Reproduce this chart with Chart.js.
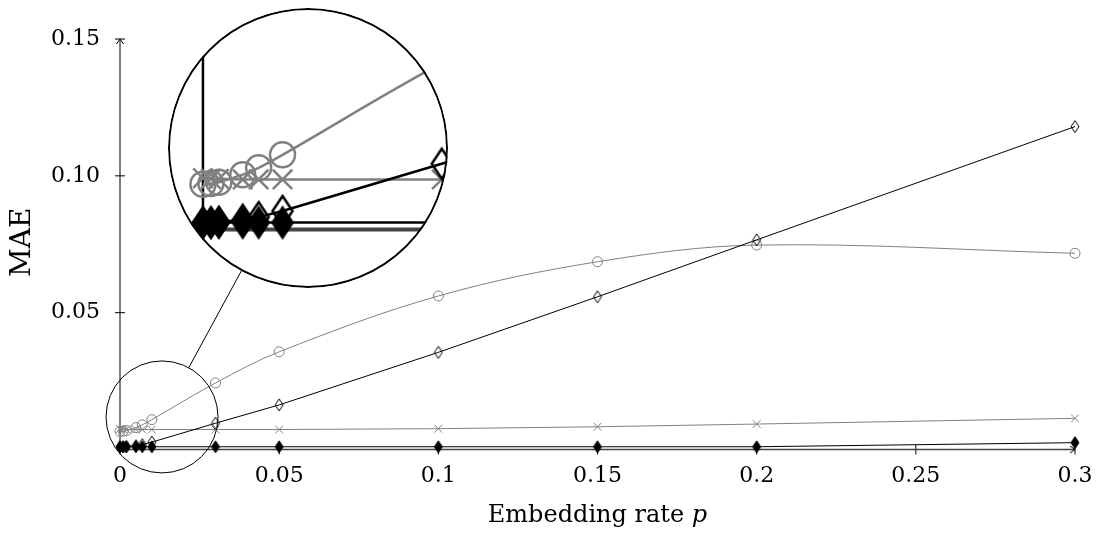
<!DOCTYPE html>
<html>
<head>
<meta charset="utf-8">
<script src="https://cdn.jsdelivr.net/npm/chart.js@4.4.1/dist/chart.umd.min.js"></script>
<style>
  html, body { margin: 0; padding: 0; background: #fff; }
  #wrap { position: relative; width: 1100px; height: 533px; overflow: hidden; }
  #main { position: absolute; left: 0; top: 0; }
  #lens { position: absolute; border-radius: 50%; overflow: hidden; background: #fff; }
  #lens canvas { display: block; }
</style>
</head>
<body>
<div id="wrap">
  <canvas id="main" width="1100" height="533"></canvas>
  <div id="lens"><canvas id="zoom"></canvas></div>
</div>
<script>
// ----- data -----
const rates = [0, 0.001, 0.002, 0.005, 0.007, 0.01, 0.03, 0.05, 0.1, 0.15, 0.2, 0.3];
const maeCircle  = [0.0066, 0.0067, 0.0069, 0.0080, 0.0090, 0.0109, 0.0243, 0.0357, 0.0561, 0.0686, 0.0747, 0.0717];
const maeCross   = [0.0075, 0.0074, 0.0074, 0.0073, 0.0073, 0.0073, 0.0073, 0.0073, 0.0076, 0.0083, 0.0093, 0.0114];
const maeDiamond = [0.0010, 0.0010, 0.0011, 0.0014, 0.0018, 0.0027, 0.0096, 0.0163, 0.0355, 0.0558, 0.0766, 0.1180];
const maeFilled  = [0.0010, 0.0010, 0.0010, 0.0010, 0.0010, 0.0010, 0.0010, 0.0010, 0.0010, 0.0010, 0.0010, 0.0025];

const xTicks = [0, 0.05, 0.1, 0.15, 0.2, 0.25, 0.3];
const yTicks = [0.05, 0.10, 0.15];

const xTitle = "Embedding rate ";
const xTitleVar = "p";
const yTitle = "MAE";

// spy lens (data units for the two centres)
const spyFrom = { x: 0.0132, y: 0.0119 };
const spyTo = { x: 0.0591, y: 0.1102 };
const lensZoom = 2.5;
const lensRadius = 140;

const GRAY = "#808080";
const FONT = "'DejaVu Serif', serif";

function pts(arr) {
  return rates.map((x, i) => ({ x: x, y: arr[i] }));
}

// pgfplots style diamond: taller than wide
function diamondMark(w, h, lw, filled) {
  const c = document.createElement("canvas");
  const pad = Math.ceil(lw) + 1;
  c.width = Math.ceil(w + 2 * pad);
  c.height = Math.ceil(h + 2 * pad);
  const g = c.getContext("2d");
  const cx = c.width / 2, cy = c.height / 2;
  g.beginPath();
  g.moveTo(cx, cy - h / 2);
  g.lineTo(cx + w / 2, cy);
  g.lineTo(cx, cy + h / 2);
  g.lineTo(cx - w / 2, cy);
  g.closePath();
  if (filled) { g.fillStyle = "#000"; g.fill(); }
  g.lineWidth = lw;
  g.strokeStyle = "#000";
  g.stroke();
  return c;
}

function makeSets(k) {
  return [
    {
      data: pts(maeFilled), borderColor: "#000", borderWidth: 1 * k, tension: 0,
      pointStyle: diamondMark(8 * k, 12 * k, 1 * k, true), pointRadius: 6 * k, clip: false
    },
    {
      data: pts(maeDiamond), borderColor: "#000", borderWidth: 1 * k, tension: 0,
      pointStyle: diamondMark(8 * k, 12 * k, 1 * k, false), pointRadius: 6 * k, clip: false
    },
    {
      data: pts(maeCross), borderColor: GRAY, borderWidth: 1 * k, tension: 0,
      pointStyle: "crossRot", pointRadius: 5.5 * k,
      pointBorderColor: GRAY, pointBorderWidth: 1 * k, clip: false
    },
    {
      data: pts(maeCircle), borderColor: GRAY, borderWidth: 1 * k, tension: 0.35,
      pointStyle: "circle", pointRadius: 5 * k, pointBackgroundColor: "rgba(0,0,0,0)",
      pointBorderColor: GRAY, pointBorderWidth: 1 * k, clip: false
    }
  ];
}

function seg(ctx, x1, y1, x2, y2) {
  ctx.beginPath();
  ctx.moveTo(x1, y1);
  ctx.lineTo(x2, y2);
  ctx.stroke();
}

// axis lines, crossing tick marks, arrow tips
function axesPlugin(k, arrows) {
  return {
    id: "axes",
    beforeDatasetsDraw(chart) {
      const { ctx, scales: { x, y }, chartArea } = chart;
      const x0 = x.getPixelForValue(0), y0 = y.getPixelForValue(0);
      const xEnd = x.getPixelForValue(0.3), yTop = y.getPixelForValue(0.15);
      ctx.save();
      ctx.lineCap = "butt";
      ctx.strokeStyle = "#000";
      ctx.lineWidth = 1 * k;
      seg(ctx, x0, y0, x0, Math.max(yTop, chartArea.top - 20));
      yTicks.forEach(v => {
        const py = y.getPixelForValue(v);
        seg(ctx, x0 - 5 * k, py, x0 + 5 * k, py);
      });
      xTicks.forEach(v => {
        const px = x.getPixelForValue(v);
        seg(ctx, px, y0 - 5 * k, px, y0 + 5 * k);
      });
      ctx.strokeStyle = "#444";
      ctx.lineWidth = 1.6 * k;
      seg(ctx, x0, y0, Math.min(xEnd, chartArea.right + 20), y0);
      if (arrows) {
        ctx.strokeStyle = "#000";
        ctx.lineWidth = 1;
        ctx.beginPath();
        ctx.moveTo(x0 - 3.5, yTop + 5);
        ctx.lineTo(x0, yTop);
        ctx.lineTo(x0 + 3.5, yTop + 5);
        ctx.stroke();
        ctx.beginPath();
        ctx.moveTo(xEnd - 5, y0 - 3.5);
        ctx.lineTo(xEnd, y0);
        ctx.lineTo(xEnd - 5, y0 + 3.5);
        ctx.stroke();
      }
      ctx.restore();
    }
  };
}

const titlesPlugin = {
  id: "titles",
  afterDraw(chart) {
    const { ctx, chartArea } = chart;
    ctx.save();
    ctx.fillStyle = "#000";
    // y title
    ctx.font = "28px " + FONT;
    ctx.textAlign = "center";
    ctx.textBaseline = "middle";
    ctx.translate(23, (chartArea.top + chartArea.bottom) / 2 - 2);
    ctx.rotate(-Math.PI / 2);
    ctx.fillText(yTitle, 0, 0);
    ctx.setTransform(1, 0, 0, 1, 0, 0);
    // x title, with italic variable
    ctx.textAlign = "left";
    ctx.textBaseline = "alphabetic";
    ctx.font = "24px " + FONT;
    const w1 = ctx.measureText(xTitle).width;
    ctx.font = "italic 24px " + FONT;
    const w2 = ctx.measureText(xTitleVar).width;
    const sx = (chartArea.left + chartArea.right) / 2 - (w1 + w2) / 2;
    ctx.font = "24px " + FONT;
    ctx.fillText(xTitle, sx, 522);
    ctx.font = "italic 24px " + FONT;
    ctx.fillText(xTitleVar, sx + w1, 522);
    ctx.restore();
  }
};

const spyPlugin = {
  id: "spy",
  afterDatasetsDraw(chart) {
    const { ctx, scales: { x, y } } = chart;
    const r = lensRadius / lensZoom;
    const ax = x.getPixelForValue(spyFrom.x), ay = y.getPixelForValue(spyFrom.y);
    const bx = x.getPixelForValue(spyTo.x), by = y.getPixelForValue(spyTo.y);
    const d = Math.hypot(bx - ax, by - ay);
    const ux = (bx - ax) / d, uy = (by - ay) / d;
    ctx.save();
    ctx.strokeStyle = "#000";
    ctx.lineWidth = 1;
    ctx.beginPath();
    ctx.arc(ax, ay, r, 0, Math.PI * 2);
    ctx.stroke();
    seg(ctx, ax + ux * r, ay + uy * r, bx - ux * lensRadius, by - uy * lensRadius);
    ctx.restore();
  }
};

const mainChart = new Chart(document.getElementById("main"), {
  type: "line",
  data: { datasets: makeSets(1) },
  options: {
    responsive: false,
    animation: false,
    devicePixelRatio: 1,
    layout: { autoPadding: false, padding: { left: 0, right: 25, top: 39, bottom: 0 } },
    plugins: { legend: { display: false }, tooltip: { enabled: false } },
    scales: {
      x: {
        type: "linear", min: 0, max: 0.3,
        afterFit: s => { s.height = 83.5; s.paddingLeft = 0; s.paddingRight = 0; },
        afterBuildTicks: s => { s.ticks = xTicks.map(v => ({ value: v })); },
        ticks: {
          padding: 14, autoSkip: false, maxRotation: 0, color: "#000",
          font: { family: FONT, size: 22 },
          callback: v => String(parseFloat(Number(v).toFixed(3)))
        },
        grid: { display: false, drawTicks: false },
        border: { display: false }
      },
      y: {
        type: "linear", min: 0, max: 0.15,
        afterFit: s => { s.width = 120; s.paddingTop = 0; s.paddingBottom = 0; },
        afterBuildTicks: s => { s.ticks = yTicks.map(v => ({ value: v })); },
        ticks: {
          padding: 20, color: "#000",
          font: { family: FONT, size: 22 },
          callback: v => Number(v).toFixed(2)
        },
        grid: { display: false, drawTicks: false },
        border: { display: false }
      }
    }
  },
  plugins: [axesPlugin(1, true), spyPlugin, titlesPlugin]
});

// ----- magnified lens -----
const xs = mainChart.scales.x, ys = mainChart.scales.y;
const pxPerX = (xs.getPixelForValue(0.3) - xs.getPixelForValue(0)) / 0.3;
const pxPerY = (ys.getPixelForValue(0) - ys.getPixelForValue(0.15)) / 0.15;
const rSmall = lensRadius / lensZoom;

const lens = document.getElementById("lens");
const bigX = xs.getPixelForValue(spyTo.x), bigY = ys.getPixelForValue(spyTo.y);
lens.style.left = (bigX - lensRadius) + "px";
lens.style.top = (bigY - lensRadius) + "px";
lens.style.width = (2 * lensRadius) + "px";
lens.style.height = (2 * lensRadius) + "px";

const zoomCanvas = document.getElementById("zoom");
zoomCanvas.width = 2 * lensRadius;
zoomCanvas.height = 2 * lensRadius;

const lensOutline = {
  id: "lensOutline",
  afterDraw(chart) {
    const ctx = chart.ctx;
    ctx.save();
    ctx.strokeStyle = "#000";
    ctx.lineWidth = 2;
    ctx.beginPath();
    ctx.arc(lensRadius, lensRadius, lensRadius - 1, 0, Math.PI * 2);
    ctx.stroke();
    ctx.restore();
  }
};

new Chart(zoomCanvas, {
  type: "line",
  data: { datasets: makeSets(lensZoom) },
  options: {
    responsive: false,
    animation: false,
    devicePixelRatio: 1,
    layout: { autoPadding: false, padding: 0 },
    plugins: { legend: { display: false }, tooltip: { enabled: false } },
    scales: {
      x: { type: "linear", display: false, min: spyFrom.x - rSmall / pxPerX, max: spyFrom.x + rSmall / pxPerX },
      y: { type: "linear", display: false, min: spyFrom.y - rSmall / pxPerY, max: spyFrom.y + rSmall / pxPerY }
    }
  },
  plugins: [axesPlugin(lensZoom, false), lensOutline]
});
</script>
</body>
</html>
